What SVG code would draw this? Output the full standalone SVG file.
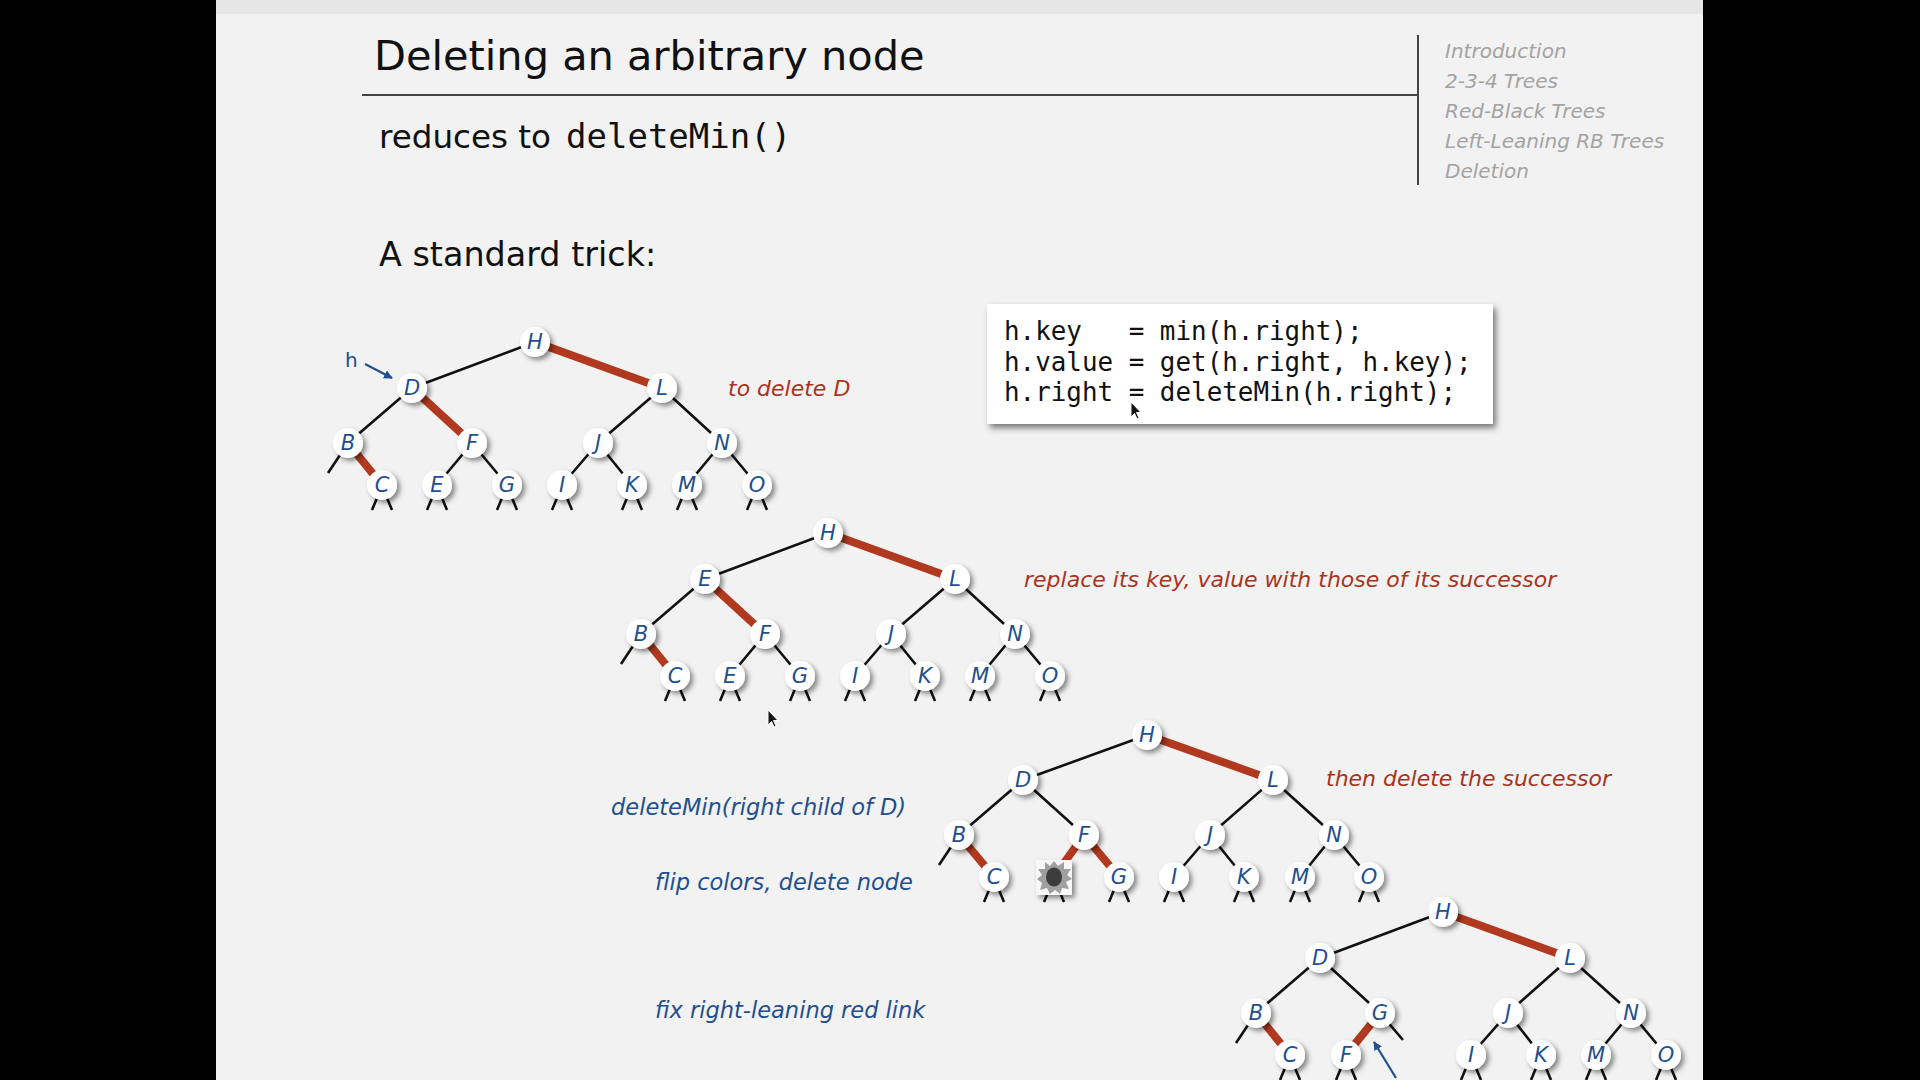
<svg xmlns="http://www.w3.org/2000/svg" width="1920" height="1080" viewBox="0 0 1920 1080">
<defs>
<style>
.title{font-family:"DejaVu Sans",sans-serif;font-size:41.5px;fill:#111}
.sub{font-family:"DejaVu Sans",sans-serif;fill:#111}
.mono{font-family:"DejaVu Sans Mono","Liberation Mono",monospace}
.menu{font-family:"DejaVu Sans",sans-serif;font-style:italic;font-size:20px;fill:#a3a3a3}
.red{font-family:"DejaVu Sans",sans-serif;font-style:italic;font-size:22px;fill:#a8341f}
.blue{font-family:"DejaVu Sans",sans-serif;font-style:italic;font-size:22.5px;fill:#1f4f8e}
.lbl{font-family:"DejaVu Sans",sans-serif;font-style:italic;font-size:21px;fill:#1f4f8e;text-anchor:middle;dominant-baseline:central}
.blk{stroke:#111;stroke-width:2.6;fill:none}
.rd{stroke:#b0391f;stroke-width:8;fill:none}
.stub{stroke:#111;stroke-width:2.6;fill:none}
.nc{fill:#fff;filter:url(#sh)}
.arr{stroke:#1f4f8e;stroke-width:2.2;fill:none;marker-end:url(#ah)}
</style>
<filter id="sh" x="-50%" y="-50%" width="200%" height="200%">
<feDropShadow dx="3" dy="3" stdDeviation="2.5" flood-color="#000" flood-opacity="0.45"/>
</filter>
<filter id="bsh" x="-10%" y="-20%" width="120%" height="150%">
<feDropShadow dx="3" dy="4" stdDeviation="3" flood-color="#000" flood-opacity="0.5"/>
</filter>
<marker id="ah" viewBox="0 0 10 10" refX="9" refY="5" markerWidth="4" markerHeight="4" orient="auto" markerUnits="strokeWidth">
<path d="M0,0 L10,5 L0,10 z" fill="#1f4f8e"/>
</marker>
<g id="stubs"><path class="stub" d="M-5,13 L-10,25 M5,13 L10,25"/></g>
</defs>

<rect x="0" y="0" width="1920" height="1080" fill="#000"/>
<rect x="216" y="0" width="1487" height="1080" fill="#f2f2f2"/>
<rect x="216" y="0" width="1487" height="14" fill="#e6e6e6"/>

<!-- header -->
<text class="title" x="374" y="70">Deleting an arbitrary node</text>
<line x1="362" y1="95" x2="1418" y2="95" stroke="#444" stroke-width="2"/>
<line x1="1418" y1="35" x2="1418" y2="185" stroke="#444" stroke-width="2"/>
<text class="menu" x="1445" y="58">Introduction</text>
<text class="menu" x="1445" y="88">2-3-4 Trees</text>
<text class="menu" x="1445" y="118">Red-Black Trees</text>
<text class="menu" x="1445" y="148">Left-Leaning RB Trees</text>
<text class="menu" x="1445" y="178">Deletion</text>
<text class="sub" x="379" y="148" font-size="32.6">reduces to <tspan class="mono" x="566" font-size="34">deleteMin()</tspan></text>
<text class="sub" x="379" y="266" font-size="33.4">A standard trick:</text>

<!-- code box -->
<g id="codebox">
<rect x="987" y="304" width="506" height="120" fill="#fff" filter="url(#bsh)"/>
<text class="mono" font-size="25.9" fill="#111" xml:space="preserve"><tspan x="1004" y="340">h.key   = min(h.right);</tspan><tspan x="1004" y="370.5">h.value = get(h.right, h.key);</tspan><tspan x="1004" y="401">h.right = deleteMin(h.right);</tspan></text>
</g>

<!-- captions -->
<text class="red" x="728" y="396" font-size="21">to delete D</text>
<text class="red" x="1024" y="587">replace its key, value with those of its successor</text>
<text class="red" x="1326" y="786">then delete the successor</text>
<text class="blue" x="611" y="815">deleteMin(right child of D)</text>
<text class="blue" x="655" y="890">flip colors, delete node</text>
<text class="blue" x="655" y="1018">fix right-leaning red link</text>

<!-- connectors -->
<g id="connectors">
<g transform="translate(535,342)">
<path class="blk" d="M0,0 L-123,46 M-123,46 L-187,101 M-187,101 L-207,131 M-63,101 L-98,143 M-63,101 L-28,143 M127,46 L63,101 M127,46 L187,101 M63,101 L27,143 M63,101 L97,143 M187,101 L152,143 M187,101 L222,143"/>
<path class="rd" d="M0,0 L127,46 M-123,46 L-63,101 M-187,101 L-153,143"/>
<use href="#stubs" x="-153" y="143"/><use href="#stubs" x="-98" y="143"/><use href="#stubs" x="-28" y="143"/><use href="#stubs" x="27" y="143"/><use href="#stubs" x="97" y="143"/><use href="#stubs" x="152" y="143"/><use href="#stubs" x="222" y="143"/>
</g>
<g transform="translate(828,533)">
<path class="blk" d="M0,0 L-123,46 M-123,46 L-187,101 M-187,101 L-207,131 M-63,101 L-98,143 M-63,101 L-28,143 M127,46 L63,101 M127,46 L187,101 M63,101 L27,143 M63,101 L97,143 M187,101 L152,143 M187,101 L222,143"/>
<path class="rd" d="M0,0 L127,46 M-123,46 L-63,101 M-187,101 L-153,143"/>
<use href="#stubs" x="-153" y="143"/><use href="#stubs" x="-98" y="143"/><use href="#stubs" x="-28" y="143"/><use href="#stubs" x="27" y="143"/><use href="#stubs" x="97" y="143"/><use href="#stubs" x="152" y="143"/><use href="#stubs" x="222" y="143"/>
</g>
<g transform="translate(1147,735)">
<path class="blk" d="M0,0 L-124,45 M-124,45 L-188,100 M-188,100 L-208,130 M-124,45 L-63,100 M126,45 L63,100 M126,45 L187,100 M63,100 L27,142 M63,100 L97,142 M187,100 L153,142 M187,100 L222,142"/>
<path class="rd" d="M0,0 L126,45 M-188,100 L-153,142 M-63,100 L-93,142 M-63,100 L-28,142"/>
<use href="#stubs" x="-153" y="142"/><use href="#stubs" x="-93" y="142"/><use href="#stubs" x="-28" y="142"/><use href="#stubs" x="27" y="142"/><use href="#stubs" x="97" y="142"/><use href="#stubs" x="153" y="142"/><use href="#stubs" x="222" y="142"/>
</g>
<g transform="translate(1443,912)">
<path class="blk" d="M0,0 L-123,46 M-123,46 L-187,101 M-187,101 L-207,131 M-123,46 L-63,101 M-63,101 L-40,128 M127,46 L65,101 M127,46 L188,101 M65,101 L28,143 M65,101 L98,143 M188,101 L153,143 M188,101 L223,143"/>
<path class="rd" d="M0,0 L127,46 M-187,101 L-153,143 M-63,101 L-97,143"/>
<use href="#stubs" x="-153" y="143"/><use href="#stubs" x="-97" y="143"/><use href="#stubs" x="28" y="143"/><use href="#stubs" x="98" y="143"/><use href="#stubs" x="153" y="143"/><use href="#stubs" x="223" y="143"/>
</g>
<line class="arr" x1="365" y1="364" x2="392" y2="378"/>
<line class="arr" x1="1396" y1="1078" x2="1374" y2="1042"/>
</g>
<text x="345" y="367" font-family="'DejaVu Sans',sans-serif" font-size="20" fill="#1f4f8e">h</text>

<!-- tree 1 nodes -->
<g id="t1H"><circle class="nc" cx="535" cy="342" r="15"/><text class="lbl" x="535" y="342">H</text></g>
<g id="t1D"><circle class="nc" cx="412" cy="388" r="15"/><text class="lbl" x="412" y="388">D</text></g>
<g id="t1L"><circle class="nc" cx="662" cy="388" r="15"/><text class="lbl" x="662" y="388">L</text></g>
<g id="t1B"><circle class="nc" cx="348" cy="443" r="15"/><text class="lbl" x="348" y="443">B</text></g>
<g id="t1F"><circle class="nc" cx="472" cy="443" r="15"/><text class="lbl" x="472" y="443">F</text></g>
<g id="t1J"><circle class="nc" cx="598" cy="443" r="15"/><text class="lbl" x="598" y="443">J</text></g>
<g id="t1N"><circle class="nc" cx="722" cy="443" r="15"/><text class="lbl" x="722" y="443">N</text></g>
<g id="t1C"><circle class="nc" cx="382" cy="485" r="15"/><text class="lbl" x="382" y="485">C</text></g>
<g id="t1E"><circle class="nc" cx="437" cy="485" r="15"/><text class="lbl" x="437" y="485">E</text></g>
<g id="t1G"><circle class="nc" cx="507" cy="485" r="15"/><text class="lbl" x="507" y="485">G</text></g>
<g id="t1I"><circle class="nc" cx="562" cy="485" r="15"/><text class="lbl" x="562" y="485">I</text></g>
<g id="t1K"><circle class="nc" cx="632" cy="485" r="15"/><text class="lbl" x="632" y="485">K</text></g>
<g id="t1M"><circle class="nc" cx="687" cy="485" r="15"/><text class="lbl" x="687" y="485">M</text></g>
<g id="t1O"><circle class="nc" cx="757" cy="485" r="15"/><text class="lbl" x="757" y="485">O</text></g>

<!-- tree 2 nodes -->
<g id="t2H"><circle class="nc" cx="828" cy="533" r="15"/><text class="lbl" x="828" y="533">H</text></g>
<g id="t2E1"><circle class="nc" cx="705" cy="579" r="15"/><text class="lbl" x="705" y="579">E</text></g>
<g id="t2L"><circle class="nc" cx="955" cy="579" r="15"/><text class="lbl" x="955" y="579">L</text></g>
<g id="t2B"><circle class="nc" cx="641" cy="634" r="15"/><text class="lbl" x="641" y="634">B</text></g>
<g id="t2F"><circle class="nc" cx="765" cy="634" r="15"/><text class="lbl" x="765" y="634">F</text></g>
<g id="t2J"><circle class="nc" cx="891" cy="634" r="15"/><text class="lbl" x="891" y="634">J</text></g>
<g id="t2N"><circle class="nc" cx="1015" cy="634" r="15"/><text class="lbl" x="1015" y="634">N</text></g>
<g id="t2C"><circle class="nc" cx="675" cy="676" r="15"/><text class="lbl" x="675" y="676">C</text></g>
<g id="t2E"><circle class="nc" cx="730" cy="676" r="15"/><text class="lbl" x="730" y="676">E</text></g>
<g id="t2G"><circle class="nc" cx="800" cy="676" r="15"/><text class="lbl" x="800" y="676">G</text></g>
<g id="t2I"><circle class="nc" cx="855" cy="676" r="15"/><text class="lbl" x="855" y="676">I</text></g>
<g id="t2K"><circle class="nc" cx="925" cy="676" r="15"/><text class="lbl" x="925" y="676">K</text></g>
<g id="t2M"><circle class="nc" cx="980" cy="676" r="15"/><text class="lbl" x="980" y="676">M</text></g>
<g id="t2O"><circle class="nc" cx="1050" cy="676" r="15"/><text class="lbl" x="1050" y="676">O</text></g>

<!-- tree 3 nodes -->
<g id="t3H"><circle class="nc" cx="1147" cy="735" r="15"/><text class="lbl" x="1147" y="735">H</text></g>
<g id="t3D"><circle class="nc" cx="1023" cy="780" r="15"/><text class="lbl" x="1023" y="780">D</text></g>
<g id="t3L"><circle class="nc" cx="1273" cy="780" r="15"/><text class="lbl" x="1273" y="780">L</text></g>
<g id="t3B"><circle class="nc" cx="959" cy="835" r="15"/><text class="lbl" x="959" y="835">B</text></g>
<g id="t3F"><circle class="nc" cx="1084" cy="835" r="15"/><text class="lbl" x="1084" y="835">F</text></g>
<g id="t3J"><circle class="nc" cx="1210" cy="835" r="15"/><text class="lbl" x="1210" y="835">J</text></g>
<g id="t3N"><circle class="nc" cx="1334" cy="835" r="15"/><text class="lbl" x="1334" y="835">N</text></g>
<g id="t3C"><circle class="nc" cx="994" cy="877" r="15"/><text class="lbl" x="994" y="877">C</text></g>
<g id="t3hole">
<rect x="1036" y="860" width="36" height="35" fill="#f8f8f8" filter="url(#sh)"/>
<path d="M1054,861 L1058,866 L1064,862 L1064,869 L1071,869 L1067,875 L1072,879 L1066,882 L1069,889 L1062,888 L1060,894 L1055,890 L1050,894 L1047,888 L1040,890 L1042,883 L1037,879 L1042,875 L1038,869 L1045,869 L1045,862 L1050,866 Z" fill="#a0a0a0"/>
<ellipse cx="1054" cy="877" rx="8" ry="9.5" fill="#3c3c3c"/>
</g>
<g id="t3G"><circle class="nc" cx="1119" cy="877" r="15"/><text class="lbl" x="1119" y="877">G</text></g>
<g id="t3I"><circle class="nc" cx="1174" cy="877" r="15"/><text class="lbl" x="1174" y="877">I</text></g>
<g id="t3K"><circle class="nc" cx="1244" cy="877" r="15"/><text class="lbl" x="1244" y="877">K</text></g>
<g id="t3M"><circle class="nc" cx="1300" cy="877" r="15"/><text class="lbl" x="1300" y="877">M</text></g>
<g id="t3O"><circle class="nc" cx="1369" cy="877" r="15"/><text class="lbl" x="1369" y="877">O</text></g>

<!-- tree 4 nodes -->
<g id="t4H"><circle class="nc" cx="1443" cy="912" r="15"/><text class="lbl" x="1443" y="912">H</text></g>
<g id="t4D"><circle class="nc" cx="1320" cy="958" r="15"/><text class="lbl" x="1320" y="958">D</text></g>
<g id="t4L"><circle class="nc" cx="1570" cy="958" r="15"/><text class="lbl" x="1570" y="958">L</text></g>
<g id="t4B"><circle class="nc" cx="1256" cy="1013" r="15"/><text class="lbl" x="1256" y="1013">B</text></g>
<g id="t4G"><circle class="nc" cx="1380" cy="1013" r="15"/><text class="lbl" x="1380" y="1013">G</text></g>
<g id="t4J"><circle class="nc" cx="1508" cy="1013" r="15"/><text class="lbl" x="1508" y="1013">J</text></g>
<g id="t4N"><circle class="nc" cx="1631" cy="1013" r="15"/><text class="lbl" x="1631" y="1013">N</text></g>
<g id="t4C"><circle class="nc" cx="1290" cy="1055" r="15"/><text class="lbl" x="1290" y="1055">C</text></g>
<g id="t4F"><circle class="nc" cx="1346" cy="1055" r="15"/><text class="lbl" x="1346" y="1055">F</text></g>
<g id="t4I"><circle class="nc" cx="1471" cy="1055" r="15"/><text class="lbl" x="1471" y="1055">I</text></g>
<g id="t4K"><circle class="nc" cx="1541" cy="1055" r="15"/><text class="lbl" x="1541" y="1055">K</text></g>
<g id="t4M"><circle class="nc" cx="1596" cy="1055" r="15"/><text class="lbl" x="1596" y="1055">M</text></g>
<g id="t4O"><circle class="nc" cx="1666" cy="1055" r="15"/><text class="lbl" x="1666" y="1055">O</text></g>

<!-- mouse cursors -->
<path d="M1131,402 L1131,417 L1134.5,413.5 L1137,419 L1139,418 L1136.5,412.5 L1141,412.5 Z" fill="#111" stroke="#fff" stroke-width="1"/>
<path d="M768,710 L768,725 L771.5,721.5 L774,727 L776,726 L773.5,720.5 L778,720.5 Z" fill="#111" stroke="#fff" stroke-width="1"/>

<rect x="1703" y="0" width="217" height="1080" fill="#000"/>
</svg>
